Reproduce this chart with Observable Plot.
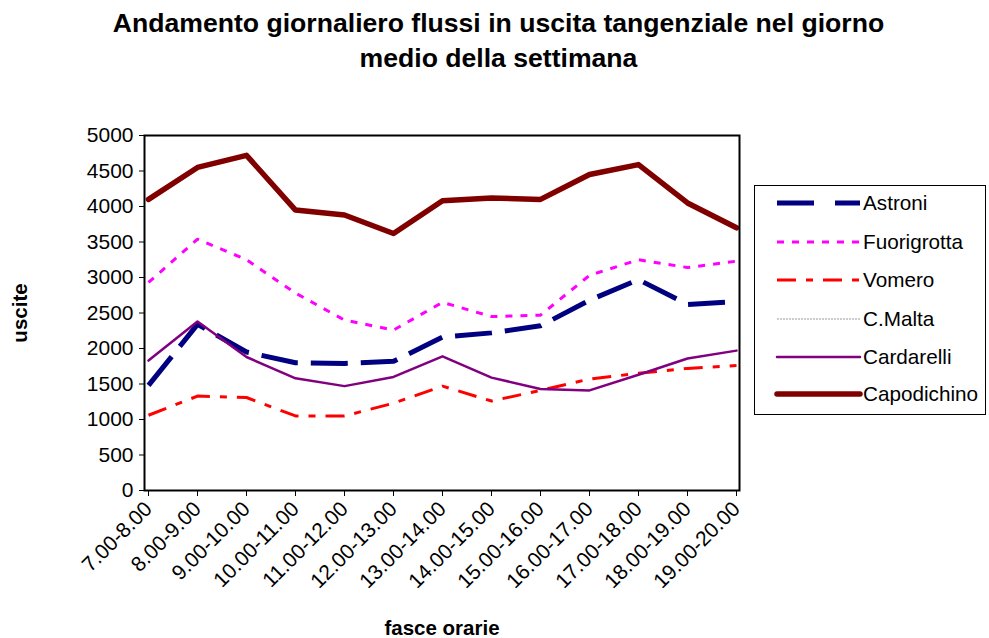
<!DOCTYPE html>
<html>
<head>
<meta charset="utf-8">
<script src="https://cdn.jsdelivr.net/npm/d3@7"></script>
<script src="https://cdn.jsdelivr.net/npm/@observablehq/plot@0.6"></script>
<style>
  html, body { margin: 0; padding: 0; background: #fff; }
  body { width: 989px; height: 638px; position: relative; overflow: hidden; font-family: "Liberation Sans", Arial, sans-serif; }
  #title { position: absolute; left: 4px; top: 6px; width: 989px; text-align: center; font-weight: bold; font-size: 26.6px; line-height: 35px; color: #000; }
  #chart { position: absolute; left: 0; top: 80px; }
  #legend { position: absolute; left: 754px; top: 185px; }
</style>
</head>
<body>
<div id="title">Andamento giornaliero flussi in uscita tangenziale nel giorno<br>medio della settimana</div>
<div id="chart"></div>
<div id="legend"></div>
<script>
const categories = ["7.00-8.00","8.00-9.00","9.00-10.00","10.00-11.00","11.00-12.00","12.00-13.00","13.00-14.00","14.00-15.00","15.00-16.00","16.00-17.00","17.00-18.00","18.00-19.00","19.00-20.00"];
const astroni     = [1480,2340,1950,1800,1790,1820,2160,2220,2320,2680,2970,2620,2660];
const fuorigrotta = [2930,3540,3250,2780,2400,2260,2650,2450,2470,3030,3250,3140,3230];
const vomero      = [1060,1330,1310,1050,1050,1230,1470,1260,1410,1570,1650,1720,1760];
const cMalta      = []; // not visible in the reference
const cardarelli  = [1830,2380,1880,1580,1470,1600,1890,1590,1430,1410,1630,1860,1970];
const capodichino = [4100,4550,4720,3950,3880,3620,4080,4120,4100,4450,4590,4050,3700];
const seriesNames = ["Astroni","Fuorigrotta","Vomero","C.Malta","Cardarelli","Capodichino"];
const yTicks = [0,500,1000,1500,2000,2500,3000,3500,4000,4500,5000];

const styles = {
  "Astroni":     {stroke:"#000080", strokeWidth:5,   dash:"37,13"},
  "Fuorigrotta": {stroke:"#FF00FF", strokeWidth:3,   dash:"7,8"},
  "Vomero":      {stroke:"#FF0000", strokeWidth:3,   dash:"19,10,7,10"},
  "C.Malta":     {stroke:"#9a9a9a", strokeWidth:1,   dash:"2,1"},
  "Cardarelli":  {stroke:"#800080", strokeWidth:2.5, dash:null},
  "Capodichino": {stroke:"#800000", strokeWidth:5.5, dash:null}
};
const seriesValues = {"Astroni":astroni,"Fuorigrotta":fuorigrotta,"Vomero":vomero,"C.Malta":cMalta,"Cardarelli":cardarelli,"Capodichino":capodichino};

const lines = seriesNames.map(name => {
  const vals = seriesValues[name];
  const data = vals.map((v,i) => ({cat: categories[i], v}));
  const s = styles[name];
  return Plot.line(data, {x:"cat", y:"v", stroke:s.stroke, strokeWidth:s.strokeWidth,
    strokeDasharray: s.dash || undefined, strokeLinejoin:"round", strokeLinecap: s.dash ? "butt" : "round"});
});

const chart = Plot.plot({
  width: 989, height: 558,
  marginTop: 55, marginBottom: 148, marginLeft: 144, marginRight: 250,
  style: {fontFamily: "'Liberation Sans', Arial, sans-serif", fontSize: "21px", color: "#000", background: "white", overflow: "visible"},
  x: {type: "point", domain: categories, padding: 0, label: null},
  y: {domain: [0, 5000], label: null},
  marks: [
    Plot.axisY({ticks: yTicks, tickSize: 5, tickPadding: 6, label: null, tickFormat: d => String(d)}),
    Plot.axisX({tickSize: 6, tickRotate: -45, tickPadding: 9, label: null}),
    ...lines,
    Plot.frame({stroke: "#000", strokeWidth: 2}),
    Plot.text(["uscite"], {text: d => d, frameAnchor: "left", dx: -124, rotate: -90, textAnchor: "middle", lineAnchor: "middle", fontWeight: "bold", fontSize: 20.5}),
    Plot.text(["fasce orarie"], {text: d => d, frameAnchor: "bottom", dy: 138, textAnchor: "middle", lineAnchor: "middle", fontWeight: "bold", fontSize: 20.5})
  ]
});
document.getElementById("chart").appendChild(chart);

// legend
const lg = d3.select("#legend").append("svg").attr("width", 233).attr("height", 232)
  .style("font-family", "'Liberation Sans', Arial, sans-serif").style("font-size", "20.7px");
lg.append("rect").attr("x", 0.5).attr("y", 0.5).attr("width", 231).attr("height", 229)
  .attr("fill", "white").attr("stroke", "#000").attr("stroke-width", 1);
const rowY = [18, 57, 95, 134, 172, 209];
seriesNames.forEach((name, i) => {
  const s = styles[name];
  const y = rowY[i];
  lg.append("line").attr("x1", 23).attr("x2", 106).attr("y1", y).attr("y2", y)
    .attr("stroke", s.stroke).attr("stroke-width", s.strokeWidth)
    .attr("stroke-dasharray", name === "Astroni" ? "37,21" : (s.dash || null))
    .attr("stroke-linecap", s.dash ? "butt" : "round");
  lg.append("text").attr("x", 109).attr("y", y).attr("dy", "0.36em").text(name);
});
</script>
</body>
</html>
